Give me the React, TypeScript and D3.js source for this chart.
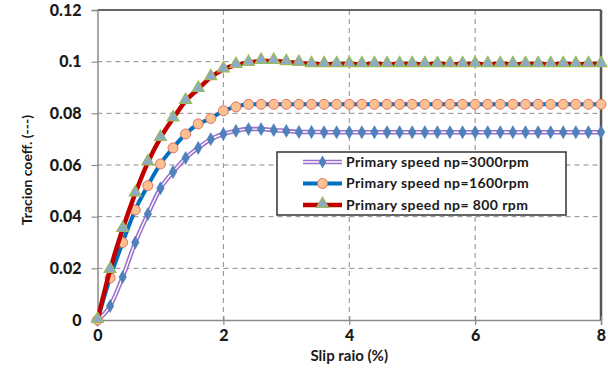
import React, { useEffect, useRef } from 'react';
import * as d3 from 'd3';

// slip ratio (%), one point every 0.2
const slip = [
  0, 0.2, 0.4, 0.6, 0.8, 1.0, 1.2, 1.4, 1.6, 1.8, 2.0, 2.2, 2.4, 2.6, 2.8, 3.0, 3.2, 3.4, 3.6, 3.8, 4.0,
  4.2, 4.4, 4.6, 4.8, 5.0, 5.2, 5.4, 5.6, 5.8, 6.0, 6.2, 6.4, 6.6, 6.8, 7.0, 7.2, 7.4, 7.6, 7.8, 8.0
];

const np3000 = [
  0, 0.0054, 0.0166, 0.030, 0.041, 0.051, 0.0573, 0.0627, 0.0666, 0.070, 0.072, 0.0732, 0.0739, 0.0739,
  0.0735, 0.0732, 0.0728, 0.0728, 0.0727, 0.0727, 0.0727, 0.0727, 0.0727, 0.0727, 0.0727, 0.0727, 0.0727,
  0.0727, 0.0727, 0.0727, 0.0727, 0.0727, 0.0727, 0.0727, 0.0727, 0.0727, 0.0727, 0.0727, 0.0727, 0.0727, 0.0727
];

const np1600 = [
  0, 0.0163, 0.030, 0.0426, 0.052, 0.0604, 0.0666, 0.072, 0.0759, 0.078, 0.081, 0.0825, 0.0835, 0.0835,
  0.0835, 0.0835, 0.0835, 0.0835, 0.0835, 0.0835, 0.0835, 0.0835, 0.0835, 0.0835, 0.0835, 0.0835, 0.0835,
  0.0835, 0.0835, 0.0835, 0.0835, 0.0835, 0.0835, 0.0835, 0.0835, 0.0835, 0.0835, 0.0835, 0.0835, 0.0835, 0.0835
];

const np800 = [
  0, 0.0194, 0.0352, 0.049, 0.061, 0.0705, 0.078, 0.0848, 0.0894, 0.094, 0.097, 0.0987, 0.0995, 0.1003,
  0.1003, 0.0998, 0.0995, 0.099, 0.099, 0.099, 0.099, 0.099, 0.099, 0.099, 0.099, 0.099, 0.099,
  0.099, 0.099, 0.099, 0.099, 0.099, 0.099, 0.099, 0.099, 0.099, 0.099, 0.099, 0.099, 0.099, 0.099
];

const xTicks = [0, 2, 4, 6, 8];
const yTicks = [0, 0.02, 0.04, 0.06, 0.08, 0.1, 0.12];
const legendLabels = ['Primary speed np=3000rpm', 'Primary speed np=1600rpm', 'Primary speed np= 800 rpm'];

const FONT = 'Lato, "Open Sans", sans-serif';

const App = () => {
  const svgRef = useRef<SVGSVGElement>(null);

  useEffect(() => {
    const W = 608, H = 369;
    const margin = { top: 10, right: 7, bottom: 49, left: 97.5 };
    const width = W - margin.left - margin.right;
    const height = H - margin.top - margin.bottom;

    const root = d3.select(svgRef.current);
    root.selectAll('*').remove();
    root.attr('width', W).attr('height', H);
    root.append('rect').attr('width', W).attr('height', H).attr('fill', '#fff');

    const svg = root.append('g').attr('transform', `translate(${margin.left},${margin.top})`);

    const x = d3.scaleLinear().domain([0, 8]).range([0, width]);
    const y = d3.scaleLinear().domain([0, 0.12]).range([height, 0]);

    // grid
    svg.selectAll('.hgrid')
      .data(yTicks.filter(t => t > 0 && t < 0.12))
      .enter().append('line')
      .attr('x1', 0).attr('x2', width)
      .attr('y1', d => y(d)).attr('y2', d => y(d))
      .attr('stroke', '#8c8c8c').attr('stroke-width', 1).attr('stroke-dasharray', '5,4');
    svg.selectAll('.vgrid')
      .data(xTicks.filter(t => t > 0 && t < 8))
      .enter().append('line')
      .attr('y1', 0).attr('y2', height)
      .attr('x1', d => x(d)).attr('x2', d => x(d))
      .attr('stroke', '#8c8c8c').attr('stroke-width', 1).attr('stroke-dasharray', '5,4');

    // frame
    svg.append('line').attr('x1', 0).attr('x2', width).attr('y1', 0).attr('y2', 0)
      .attr('stroke', '#333').attr('stroke-width', 1.5);
    svg.append('line').attr('x1', width).attr('x2', width).attr('y1', 0).attr('y2', height)
      .attr('stroke', '#555').attr('stroke-width', 2.5);

    // axes
    const yAxis = d3.axisLeft(y).tickValues(yTicks).tickSize(6).tickFormat(d => d3.format('~g')(d as number));
    const gy = svg.append('g').call(yAxis);
    gy.select('.domain').attr('stroke', '#8c8c8c').attr('stroke-width', 1.5);
    gy.selectAll('line').attr('stroke', '#8c8c8c').attr('stroke-width', 1.2);
    gy.selectAll('text').attr('font-family', FONT).attr('font-weight', 900).attr('font-size', 16)
      .attr('fill', '#1a1a1a').attr('x', -16);

    const xAxis = d3.axisBottom(x).tickValues(xTicks).tickSize(5).tickFormat(d3.format('d'));
    const gx = svg.append('g').attr('transform', `translate(0,${height})`).call(xAxis);
    gx.select('.domain').attr('stroke', '#8c8c8c').attr('stroke-width', 1.5);
    gx.selectAll('line').attr('stroke', '#8c8c8c').attr('stroke-width', 1.2).attr('y1', -4);
    gx.selectAll('text').attr('font-family', FONT).attr('font-weight', 900).attr('font-size', 16)
      .attr('fill', '#1a1a1a').attr('y', 10);

    // axis titles
    svg.append('text')
      .attr('x', x(4)).attr('y', height + 41)
      .attr('text-anchor', 'middle')
      .attr('font-family', FONT).attr('font-weight', 'bold').attr('font-size', 15).attr('fill', '#1a1a1a')
      .text('Slip raio (%)');
    svg.append('text')
      .attr('transform', `translate(${27 - margin.left},${170 - margin.top}) rotate(-90)`)
      .attr('text-anchor', 'middle').attr('dy', '0.35em')
      .attr('font-family', FONT).attr('font-weight', 'bold').attr('font-size', 14).attr('fill', '#1a1a1a')
      .text('Tracion coeff. (---)');

    const line = d3.line<number>()
      .x((d, i) => x(slip[i]))
      .y(d => y(d))
      .curve(d3.curveMonotoneX);

    const diamond = d3.symbol().type(d3.symbolDiamond).size(48);
    const triangle = d3.symbol().type(d3.symbolTriangle).size(62);

    // np=3000: double purple line with diamonds
    svg.append('path').datum(np3000).attr('d', line).attr('fill', 'none')
      .attr('stroke', '#9a6fcc').attr('stroke-width', 4.5);
    svg.append('path').datum(np3000).attr('d', line).attr('fill', 'none')
      .attr('stroke', '#fff').attr('stroke-width', 1.4);
    svg.selectAll('.dia').data(np3000).enter().append('path')
      .attr('d', diamond)
      .attr('transform', (d, i) => `translate(${x(slip[i])},${y(d)})`)
      .attr('fill', '#4f81bd').attr('stroke', '#4a7ab5').attr('stroke-width', 0.6);

    // np=1600: blue line with circles
    svg.append('path').datum(np1600).attr('d', line).attr('fill', 'none')
      .attr('stroke', '#0070c0').attr('stroke-width', 4);
    svg.selectAll('.circ').data(np1600).enter().append('circle')
      .attr('cx', (d, i) => x(slip[i])).attr('cy', d => y(d)).attr('r', 5)
      .attr('fill', '#fac090').attr('stroke', '#e0726a').attr('stroke-width', 1);

    // np=800: red line with triangles
    svg.append('path').datum(np800).attr('d', line).attr('fill', 'none')
      .attr('stroke', '#c00000').attr('stroke-width', 4.5);
    svg.selectAll('.tri').data(np800).enter().append('path')
      .attr('d', triangle)
      .attr('transform', (d, i) => `translate(${x(slip[i])},${y(d) - 1})`)
      .attr('fill', '#8eaac9').attr('stroke', '#9bbb59').attr('stroke-width', 1.2);

    // legend
    const lg = root.append('g').attr('transform', 'translate(277,152)');
    lg.append('rect').attr('width', 289).attr('height', 63)
      .attr('fill', '#fff').attr('stroke', '#333').attr('stroke-width', 1.5);
    const rows = lg.selectAll('.legend').data(legendLabels).enter().append('g')
      .attr('transform', (d, i) => `translate(0,${10 + i * 21.5})`);
    rows.each(function (d, i) {
      const g = d3.select(this);
      if (i === 0) {
        g.append('line').attr('x1', 26).attr('x2', 65).attr('stroke', '#9a6fcc').attr('stroke-width', 4.5);
        g.append('line').attr('x1', 26).attr('x2', 65).attr('stroke', '#fff').attr('stroke-width', 1.4);
        g.append('path').attr('d', diamond).attr('transform', 'translate(45.5,0)').attr('fill', '#4f81bd');
      } else if (i === 1) {
        g.append('line').attr('x1', 26).attr('x2', 65).attr('stroke', '#0070c0').attr('stroke-width', 4);
        g.append('circle').attr('cx', 45.5).attr('r', 5)
          .attr('fill', '#fac090').attr('stroke', '#e0726a').attr('stroke-width', 1);
      } else {
        g.append('line').attr('x1', 26).attr('x2', 65).attr('stroke', '#c00000').attr('stroke-width', 4.5);
        g.append('path').attr('d', triangle).attr('transform', 'translate(45.5,-1)')
          .attr('fill', '#8eaac9').attr('stroke', '#9bbb59').attr('stroke-width', 1.2);
      }
      g.append('text').attr('x', 69).attr('dy', '0.35em')
        .attr('font-family', FONT).attr('font-weight', 'bold').attr('font-size', 14)
        .attr('letter-spacing', 0.4).attr('fill', '#1a1a1a')
        .text(d);
    });
  }, []);

  return (
    <svg ref={svgRef} style={{ position: 'absolute', left: 0, top: 0 }}></svg>
  );
};

export default App;
